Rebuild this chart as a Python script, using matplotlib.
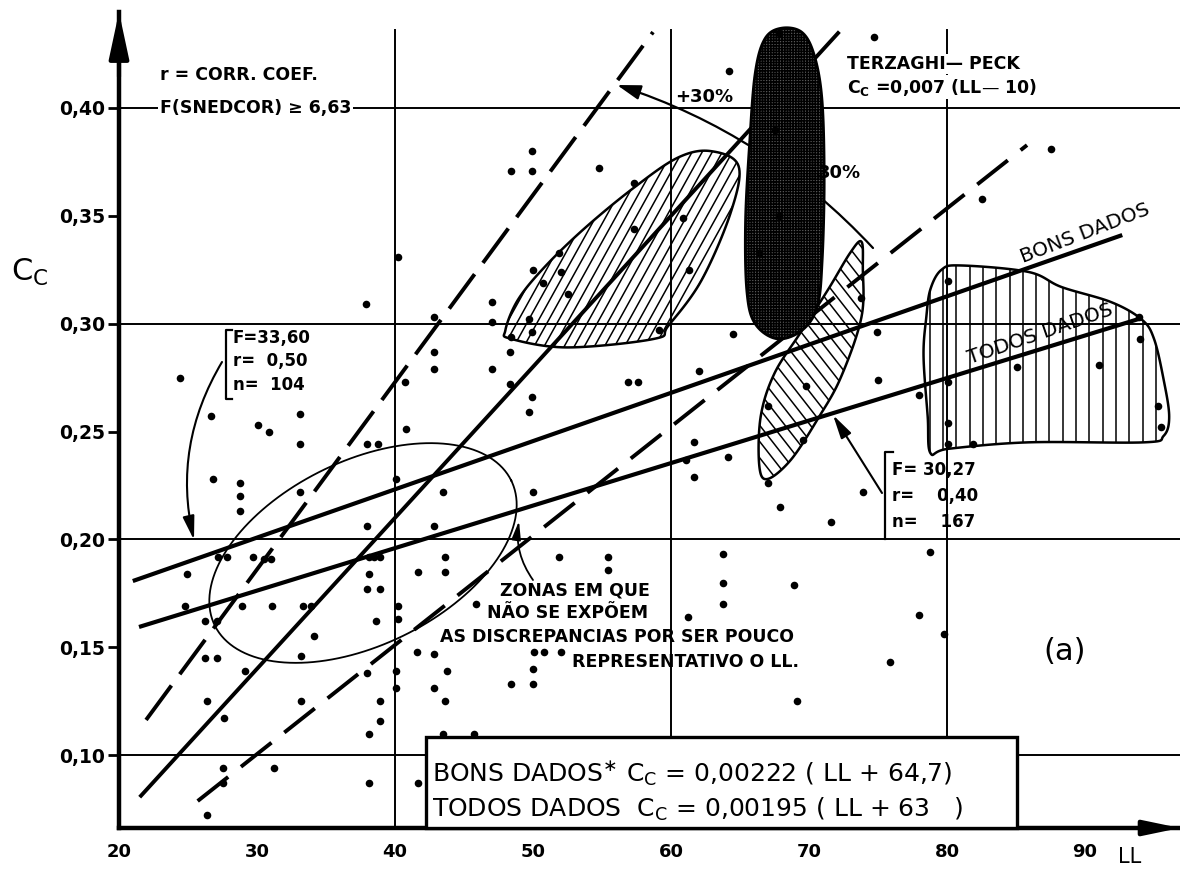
import numpy as np
import matplotlib
matplotlib.use("Agg")
import matplotlib.pyplot as plt
from matplotlib.patches import Polygon, Rectangle

plt.rcParams['font.family'] = ['DejaVu Sans']
plt.rcParams['mathtext.fontset'] = 'dejavusans'
plt.rcParams['hatch.linewidth'] = 1.1

# ------------------------------------------------------------------ data
ll_points = [24.9, 24.8, 27.2, 27.8, 29.7, 30.5, 31.0, 38.0, 38.1, 38.5, 38.9, 38.1, 38.0, 38.9, 38.6,
             40.2, 40.2, 41.7, 43.6, 43.6, 42.8, 26.2, 27.1, 28.9, 31.1, 33.3, 33.9, 34.1, 33.2,
             26.2, 27.1, 29.1, 38.0, 40.1, 40.1, 41.6, 42.8, 43.8, 42.8, 43.6, 26.4, 27.6, 33.2, 38.9, 38.9, 38.1,
             27.5, 27.5, 31.2, 26.4, 38.1, 41.7, 43.5, 45.7,
             37.9, 24.4, 26.7, 30.1, 30.9, 33.1, 33.1, 26.8, 28.8, 28.8, 28.8, 33.1, 38.0, 38.8, 40.8, 40.1,
             40.7, 42.8, 42.8, 42.8, 47.0, 47.0, 48.3, 47.0, 48.3, 49.9, 49.7, 43.5, 50.0, 40.2,
             56.9, 57.6, 51.9, 55.4, 55.4, 63.8, 63.8, 63.8, 68.9, 61.2, 62.0, 61.7, 64.1, 61.7, 73.9, 67.9,
             71.6, 64.5, 74.9, 75.0, 67.0, 69.8, 67.0, 50.1, 50.8, 52.0, 50.0, 48.4, 50.0, 75.9, 45.9, 69.1,
             64.2, 49.9, 48.4, 49.9, 54.8, 57.3, 57.3, 51.9, 52.0, 50.0, 50.7, 52.5, 60.9, 61.3,
             49.7, 49.9, 48.4, 59.1,
             74.7, 67.8, 67.5, 67.8, 66.4, 61.1, 73.8, 69.6,
             87.5, 82.5, 78.0, 80.1, 80.1, 80.1, 80.1, 81.9, 85.1, 91.0, 94.0, 95.3, 95.5, 93.9,
             78.8, 78.0, 79.8]
cc_points = [0.184, 0.169, 0.192, 0.192, 0.192, 0.191, 0.191, 0.206, 0.192, 0.192, 0.192, 0.184, 0.177, 0.177, 0.162,
             0.169, 0.163, 0.185, 0.192, 0.185, 0.206, 0.162, 0.162, 0.169, 0.169, 0.169, 0.169, 0.155, 0.146,
             0.145, 0.145, 0.139, 0.138, 0.139, 0.131, 0.148, 0.147, 0.139, 0.131, 0.125, 0.125, 0.117, 0.125, 0.125, 0.116, 0.110,
             0.094, 0.087, 0.094, 0.072, 0.087, 0.087, 0.110, 0.110,
             0.309, 0.275, 0.257, 0.253, 0.250, 0.258, 0.244, 0.228, 0.226, 0.220, 0.213, 0.222, 0.244, 0.244, 0.251, 0.228,
             0.273, 0.303, 0.287, 0.279, 0.310, 0.301, 0.287, 0.279, 0.272, 0.266, 0.259, 0.222, 0.222, 0.331,
             0.273, 0.273, 0.192, 0.192, 0.186, 0.193, 0.180, 0.170, 0.179, 0.164, 0.278, 0.245, 0.238, 0.229, 0.222, 0.215,
             0.208, 0.295, 0.296, 0.274, 0.262, 0.271, 0.226, 0.148, 0.148, 0.148, 0.140, 0.133, 0.133, 0.143, 0.170, 0.125,
             0.417, 0.380, 0.371, 0.371, 0.372, 0.365, 0.344, 0.333, 0.324, 0.325, 0.319, 0.314, 0.349, 0.325,
             0.302, 0.296, 0.294, 0.297,
             0.433, 0.435, 0.390, 0.350, 0.333, 0.237, 0.312, 0.246,
             0.381, 0.358, 0.267, 0.320, 0.273, 0.254, 0.244, 0.244, 0.280, 0.281, 0.293, 0.262, 0.252, 0.303,
             0.194, 0.165, 0.156]

x_ticks = [20, 30, 40, 50, 60, 70, 80, 90]
x_tick_labels = ['20', '30', '40', '50', '60', '70', '80', '90']
y_ticks = [0.10, 0.15, 0.20, 0.25, 0.30, 0.35, 0.40]
y_tick_labels = ['0,10', '0,15', '0,20', '0,25', '0,30', '0,35', '0,40']
grid_x = [40, 60, 80]
grid_y = [0.10, 0.20, 0.30, 0.40]

# Terzaghi-Peck  Cc = 0.007 (LL - 10)
terz_coef, terz_off = 0.007, 10.0
terz_ll = [21.5, 72.2]
# +30 % / -30 % dashed bounds
plus30_ll = [21.96, 58.7]
plus30_cc = [0.1163, 0.4352]
minus30_ll = [25.7, 85.8]
minus30_cc = [0.0787, 0.3828]
# regressions
bons_ll = [21.0, 92.7]
bons_cc = [0.1807, 0.3411]
todos_ll = [21.45, 94.1]
todos_cc = [0.1594, 0.3026]

# zones
zoneA_ll = [62.9, 64.9, 64.3, 62.2, 59.8, 58.8, 52.5, 48.4, 48.0, 48.9, 50.8, 53.7, 57.3, 60.5]
zoneA_cc = [0.380, 0.373, 0.351, 0.320, 0.299, 0.293, 0.289, 0.293, 0.297, 0.311, 0.326, 0.344, 0.363, 0.377]
zoneB_ll = [68.0, 69.5, 70.4, 70.95, 71.1, 70.95, 70.6, 69.5, 67.7, 66.1, 65.5, 65.4, 65.7, 66.1, 66.8]
zoneB_cc = [0.437, 0.435, 0.424, 0.403, 0.366, 0.329, 0.308, 0.297, 0.293, 0.300, 0.315, 0.347, 0.384, 0.416, 0.432]
zoneC_ll = [73.8, 73.9, 73.8, 72.3, 70.65, 68.7, 67.0, 66.4, 66.5, 67.5, 69.4, 71.4, 73.0]
zoneC_cc = [0.338, 0.326, 0.303, 0.275, 0.256, 0.237, 0.228, 0.234, 0.257, 0.277, 0.296, 0.316, 0.333]
zoneD_ll = [79.6, 81.0, 85.9, 88.3, 91.9, 94.1, 95.0, 95.7, 96.1, 95.7, 94.3, 85.9, 80.1, 78.8, 78.6, 78.3, 78.5, 78.8]
zoneD_cc = [0.325, 0.327, 0.324, 0.317, 0.310, 0.302, 0.293, 0.274, 0.257, 0.248, 0.245, 0.245, 0.242, 0.240,
            0.257, 0.285, 0.303, 0.316]

# ------------------------------------------------------------------ figure / axes geometry
W, H = 1180, 873
fig = plt.figure(figsize=(W / 100, H / 100), dpi=100)
AX_L, AX_R, AX_T, AX_B = 119, 1180, 12, 828
XMIN, KX = 20.0, 13.8
XMAX = XMIN + (AX_R - AX_L) / KX
KY = 2157.0
YMAX = 0.40 + (108 - AX_T) / KY
YMIN = 0.40 - (AX_B - 108) / KY
ax = fig.add_axes([AX_L / W, (H - AX_B) / H, (AX_R - AX_L) / W, (AX_B - AX_T) / H])
ax.set_xlim(XMIN, XMAX)
ax.set_ylim(YMIN, YMAX)


def D(px, py):
    """picture pixel -> data coords"""
    return XMIN + (px - AX_L) / KX, YMAX - (py - AX_T) / KY


def to_px(ll, cc):
    ll, cc = np.asarray(ll, float), np.asarray(cc, float)
    return AX_L + (ll - XMIN) * KX, AX_T + (YMAX - cc) * KY


def from_px(px, py):
    return XMIN + (np.asarray(px) - AX_L) / KX, YMAX - (np.asarray(py) - AX_T) / KY


def smooth_closed(ll, cc, n=14):
    px, py = to_px(ll, cc)
    P = np.array([px, py]).T
    N = len(P)
    out = []
    for i in range(N):
        p0, p1, p2, p3 = P[i - 1], P[i], P[(i + 1) % N], P[(i + 2) % N]
        for t in np.linspace(0, 1, n, endpoint=False):
            t2, t3 = t * t, t * t * t
            out.append(0.5 * ((2 * p1) + (-p0 + p2) * t + (2 * p0 - 5 * p1 + 4 * p2 - p3) * t2
                              + (-p0 + 3 * p1 - 3 * p2 + p3) * t3))
    out = np.array(out)
    x, y = from_px(out[:, 0], out[:, 1])
    return np.column_stack([x, y])


def line_hatch(patch, angle_deg, spacing, lw, z):
    verts = patch.get_xy()
    px, py = to_px(verts[:, 0], verts[:, 1])
    py = -py  # y up
    a = np.deg2rad(angle_deg)
    d = np.array([np.cos(a), np.sin(a)])
    nrm = np.array([-np.sin(a), np.cos(a)])
    s = px * nrm[0] + py * nrm[1]
    L = 2000
    for k in np.arange(s.min() - spacing, s.max() + spacing, spacing):
        c = k * nrm
        p1, p2 = c - L * d, c + L * d
        xs, ys = from_px([p1[0], p2[0]], [-p1[1], -p2[1]])
        ln, = ax.plot(xs, ys, color='k', lw=lw, zorder=z, solid_capstyle='butt')
        ln.set_clip_path(patch)


def T(px, py, s, **kw):
    kw.setdefault('color', 'k')
    return fig.text(px / W, 1 - py / H, s, **kw)


# ------------------------------------------------------------------ axes styling
for side in ('top', 'right'):
    ax.spines[side].set_visible(False)
ax.spines['left'].set_linewidth(3.2)
ax.spines['bottom'].set_linewidth(3.2)
ax.set_xticks(x_ticks, x_tick_labels)
ax.set_yticks(y_ticks, y_tick_labels)
ax.tick_params(axis='x', length=0, pad=11, labelsize=13)
ax.tick_params(axis='y', length=8, width=2, direction='out', pad=2, labelsize=13.5)
for lbl in ax.get_xticklabels() + ax.get_yticklabels():
    lbl.set_fontweight('bold')

# axis arrows
ax.annotate('', xy=(XMIN, YMAX), xytext=(XMIN, YMAX - 0.03), annotation_clip=False,
            arrowprops=dict(arrowstyle='-|>,head_length=1.4,head_width=0.3', color='k', lw=3,
                            mutation_scale=20, shrinkA=0, shrinkB=0))
ax.annotate('', xy=(XMAX, YMIN), xytext=(XMAX - 3, YMIN), annotation_clip=False,
            arrowprops=dict(arrowstyle='-|>,head_length=1.2,head_width=0.25', color='k', lw=3,
                            mutation_scale=18, shrinkA=0, shrinkB=0))

# grid
for gx in grid_x:
    ax.plot([gx, gx], [YMIN, 0.436], color='k', lw=1.4, zorder=1)
for gy in grid_y:
    ax.plot([XMIN, XMAX], [gy, gy], color='k', lw=1.4, zorder=1, clip_on=False)

# ------------------------------------------------------------------ zones
pA = Polygon(smooth_closed(zoneA_ll, zoneA_cc), closed=True, fill=False, ec='k', lw=1.8, zorder=2.2)
ax.add_patch(pA)
line_hatch(pA, 61, 8.8, 1.1, 2.1)

pC = Polygon(smooth_closed(zoneC_ll, zoneC_cc), closed=True, fill=False, ec='k', lw=1.8, zorder=2.2)
ax.add_patch(pC)
line_hatch(pC, -52, 10.0, 1.1, 2.1)

pD = Polygon(smooth_closed(zoneD_ll, zoneD_cc), closed=True, fill=False, ec='k', lw=1.8, zorder=2.2)
ax.add_patch(pD)
line_hatch(pD, 90, 13.3, 1.1, 2.1)

pB = Polygon(smooth_closed(zoneB_ll, zoneB_cc), closed=True, fc='#5c5c5c', ec='k', lw=2.0,
             hatch='++++++', zorder=4)
ax.add_patch(pB)

# ellipse of "non representative" zone
t = np.linspace(0, 2 * np.pi, 300)
th = np.deg2rad(26)
ea, eb, ecx, ecy = 165, 92, 363, 553
EX = ea * np.cos(t) * np.cos(th) - eb * np.sin(t) * np.sin(th)
EY = ea * np.cos(t) * np.sin(th) + eb * np.sin(t) * np.cos(th)
ex, ey = from_px(ecx + EX, ecy - EY)
ax.plot(ex, ey, color='k', lw=1.3, zorder=2)

# ------------------------------------------------------------------ lines
terz_cc = [terz_coef * (v - terz_off) for v in terz_ll]
ax.plot(terz_ll, terz_cc, color='k', lw=2.8, zorder=3, solid_capstyle='butt')
ax.plot(plus30_ll, plus30_cc, color='k', lw=2.8, zorder=3, dashes=(11, 3.6))
ax.plot(minus30_ll, minus30_cc, color='k', lw=2.8, zorder=3, dashes=(10, 4.2))
ax.plot(bons_ll, bons_cc, color='k', lw=3.0, zorder=3, solid_capstyle='butt')
ax.plot(todos_ll, todos_cc, color='k', lw=3.0, zorder=3, solid_capstyle='butt')

# +/-30 % arc
ax.annotate('', xy=D(617, 85), xytext=D(873, 248), zorder=3,
            arrowprops=dict(arrowstyle='-|>,head_length=0.8,head_width=0.25', color='k', lw=1.6,
                            connectionstyle='arc3,rad=0.13', mutation_scale=18, shrinkA=0, shrinkB=0))

# points
ax.scatter(ll_points, cc_points, s=30, c='k', linewidths=0, zorder=5)

# equation box
bx0, by0 = D(426, AX_B)
box = Rectangle((bx0, by0), (1017 - 426) / KX, (AX_B - 737) / KY, fc='white', ec='k', lw=2.4,
                zorder=4.5, clip_on=False)
ax.add_patch(box)

# brackets
bx, by = from_px([232, 226, 226, 232], [330, 330, 399, 399])
ax.plot(bx, by, color='k', lw=1.6, zorder=5, clip_on=False)
bx, by = from_px([893, 885, 885], [452, 452, 539])
ax.plot(bx, by, color='k', lw=1.6, zorder=5, clip_on=False)

# annotation arrows
ax.annotate('', xy=D(194, 540), xytext=D(222, 362), zorder=5,
            arrowprops=dict(arrowstyle='-|>,head_length=0.9,head_width=0.22', color='k', lw=1.5,
                            connectionstyle='arc3,rad=0.2', mutation_scale=16, shrinkA=0, shrinkB=0))
ax.annotate('', xy=D(833, 415), xytext=D(882, 493), zorder=5,
            arrowprops=dict(arrowstyle='-|>,head_length=0.9,head_width=0.22', color='k', lw=1.5,
                            mutation_scale=16, shrinkA=0, shrinkB=0))
ax.annotate('', xy=D(519, 521), xytext=D(533, 580), zorder=5,
            arrowprops=dict(arrowstyle='-|>,head_length=0.8,head_width=0.2', color='k', lw=1.3,
                            connectionstyle='arc3,rad=-0.2', mutation_scale=14, shrinkA=0, shrinkB=0))

# ------------------------------------------------------------------ texts
bold = dict(fontweight='bold')
T(160, 75, 'r = CORR. COEF.', fontsize=12.5, va='center', ha='left', **bold)
T(160, 108, 'F(SNEDCOR) ≥ 6,63', fontsize=12.5, va='center', ha='left', zorder=7,
  bbox=dict(fc='white', ec='none', pad=1.5), **bold)
T(675, 97, '+30%', fontsize=13, va='center', ha='left', **bold)
T(818, 173, '30%', fontsize=13, va='center', ha='left', **bold)
T(847, 64, 'TERZAGHI— PECK', fontsize=12.5, va='center', ha='left', zorder=7,
  bbox=dict(fc='white', ec='none', pad=1), **bold)
T(847, 87, r'C$_{\mathregular{C}}$ =0,007 (LL— 10)', fontsize=12.5, va='center', ha='left', zorder=7,
  bbox=dict(fc='white', ec='none', pad=1), **bold)

T(233, 338, 'F=33,60', fontsize=12, va='center', ha='left', **bold)
T(233, 361, 'r=  0,50', fontsize=12, va='center', ha='left', **bold)
T(233, 385, 'n=  104', fontsize=12, va='center', ha='left', **bold)

T(892, 470, 'F= 30,27', fontsize=12, va='center', ha='left', **bold)
T(892, 496, 'r=    0,40', fontsize=12, va='center', ha='left', **bold)
T(892, 522, 'n=    167', fontsize=12, va='center', ha='left', **bold)

T(500, 590, 'ZONAS EM QUE', fontsize=12.5, va='center', ha='left', **bold)
T(487, 613, 'NÃO SE EXPÕEM', fontsize=12.5, va='center', ha='left', **bold)
T(440, 637, 'AS DISCREPANCIAS POR SER POUCO', fontsize=12.5, va='center', ha='left', **bold)
T(572, 662, 'REPRESENTATIVO O LL.', fontsize=12.5, va='center', ha='left', **bold)

T(1085, 233, 'BONS DADOS', fontsize=14.5, va='center', ha='center', rotation=21, rotation_mode='anchor')
T(1040, 334, 'TODOS DADOS', fontsize=14.5, va='center', ha='center', rotation=19, rotation_mode='anchor')

T(1065, 652, '(a)', fontsize=22, va='center', ha='center')
T(30, 272, r'C$_{\mathregular{C}}$', fontsize=22, va='center', ha='center')
T(1130, 857, 'LL', fontsize=15, va='center', ha='center')

T(432, 773, r'BONS DADOS$^{\ast}$ C$_{\mathregular{C}}$ = 0,00222 ( LL + 64,7)', fontsize=18,
  va='center', ha='left', zorder=8)
T(432, 809, r'TODOS DADOS  C$_{\mathregular{C}}$ = 0,00195 ( LL + 63   )', fontsize=18,
  va='center', ha='left', zorder=8)

fig.savefig('out.png', dpi=100)
